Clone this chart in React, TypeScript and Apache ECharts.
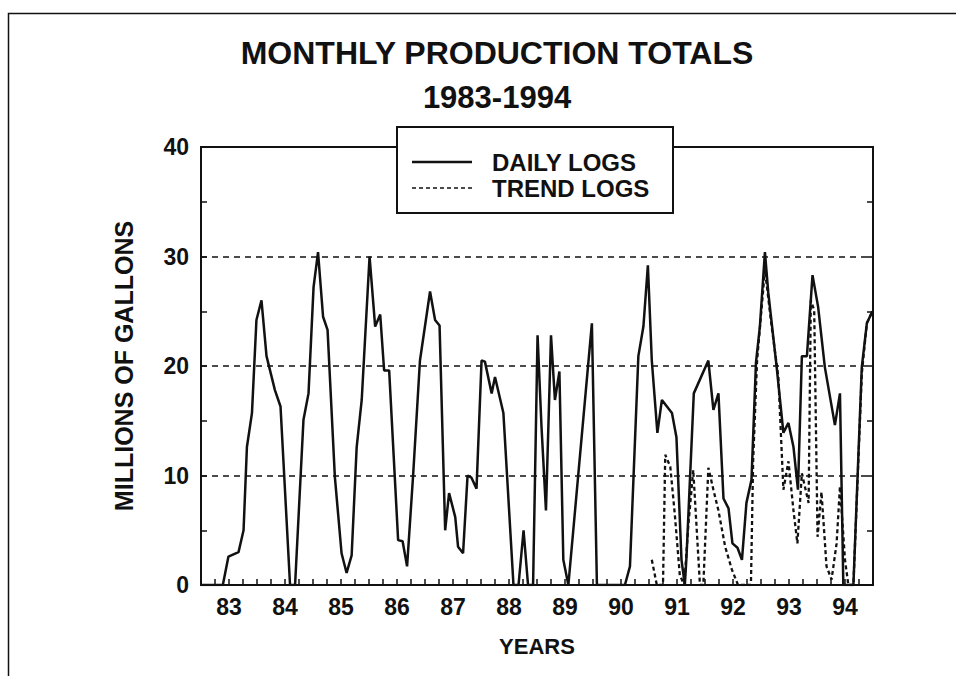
import React, { useEffect, useRef } from "react";
import * as echarts from "echarts";

const dailyX = [
  82.5, 82.89, 82.99, 83.17, 83.26, 83.32, 83.41, 83.49, 83.58, 83.67,
  83.82, 83.92, 84.09, 84.18, 84.33, 84.42, 84.51, 84.59, 84.68, 84.76,
  84.89, 85.01, 85.1, 85.19, 85.28, 85.37, 85.51, 85.61, 85.7, 85.77,
  85.86, 86.02, 86.1, 86.18, 86.29, 86.41, 86.59, 86.68, 86.76, 86.86,
  86.93, 87.04, 87.09, 87.18, 87.26, 87.33, 87.42, 87.51, 87.57, 87.69,
  87.75, 87.9, 88.08, 88.17, 88.26, 88.34, 88.43, 88.51, 88.58, 88.66,
  88.75, 88.82, 88.9, 88.97, 89.06, 89.48, 89.57, 90.07, 90.16, 90.31,
  90.4, 90.48, 90.55, 90.65, 90.73, 90.91, 90.99, 91.08, 91.14, 91.17,
  91.3, 91.56, 91.65, 91.74, 91.83, 91.92, 91.99, 92.08, 92.16, 92.24,
  92.33, 92.41, 92.48, 92.57, 92.63, 92.78, 92.9, 92.99, 93.08, 93.16,
  93.23, 93.32, 93.42, 93.52, 93.64, 93.82, 93.91, 93.97, 94.15, 94.3,
  94.39, 94.49,
];
const dailyY = [
  0, 0, 2.6, 3.0, 5.0, 12.6, 15.7, 24.2, 26.0, 20.9,
  17.8, 16.3, 0, 0, 15.1, 17.5, 27.2, 30.4, 24.5, 23.3,
  9.9, 2.9, 1.1, 2.7, 12.6, 16.9, 30.0, 23.6, 24.7, 19.6,
  19.6, 4.1, 4.0, 1.7, 10.2, 20.5, 26.8, 24.2, 23.7, 5.0,
  8.4, 6.2, 3.5, 2.9, 10.0, 9.8, 8.8, 20.5, 20.4, 17.5,
  19.0, 15.7, 0, 0, 5.0, 0, 0, 22.8, 14.5, 6.8,
  22.8, 16.9, 19.5, 2.3, 0, 23.9, 0, 0, 1.7, 20.9,
  23.6, 29.2, 20.5, 13.9, 16.9, 15.7, 13.5, 2.3, 0, 2.6,
  17.5, 20.5, 16.0, 17.5, 7.9, 7.0, 3.8, 3.4, 2.3, 7.5,
  9.6, 20.3, 23.6, 30.4, 26.7, 19.9, 13.9, 14.8, 12.6, 8.7,
  20.9, 20.9, 28.3, 25.4, 19.9, 14.6, 17.5, 0, 0, 19.9,
  23.9, 25.0,
];

const trendX = [
  90.55, 90.64, 90.75, 90.79, 90.88, 90.96, 91.05, 91.13, 91.2, 91.29,
  91.41, 91.47, 91.56, 91.65, 91.74, 91.86, 91.98, 92.09, 92.32, 92.36,
  92.43, 92.57, 92.69, 92.81, 92.9, 92.99, 93.08, 93.15, 93.23, 93.35,
  93.39, 93.45, 93.51, 93.58, 93.67, 93.76, 93.85, 93.91, 94.0, 94.06,
  94.15, 94.3, 94.39, 94.49,
];
const trendY = [
  2.3, 0, 0, 11.9, 10.8, 6.5, 0.9, 0, 5.3, 10.5,
  0, 0, 10.7, 8.7, 6.8, 3.5, 1.4, 0, 0, 11.4,
  20.5, 28.8, 23.6, 19.0, 8.7, 11.3, 6.8, 3.8, 10.2, 7.5,
  26.0, 25.1, 4.4, 8.5, 1.7, 0.5, 3.8, 9.0, 2.3, 0,
  0, 19.3, 23.9, 25.0,
];

const yTicks = [0, 10, 20, 30, 40];
const seriesNames = ["DAILY LOGS", "TREND LOGS"];
const titleLines = ["MONTHLY PRODUCTION TOTALS", "1983-1994"];

const FONT = "'Liberation Sans', Arial, Helvetica, sans-serif";
const INK = "#111";

export default function App() {
  const ref = useRef<HTMLDivElement>(null);

  useEffect(() => {
    document.body.style.margin = "0";
    const chart = echarts.init(ref.current!, undefined, { renderer: "svg" });
    const daily = dailyX.map((x, i) => [x, dailyY[i]]);
    const trend = trendX.map((x, i) => [x, trendY[i]]);

    const yAxisBase = {
      type: "value",
      min: yTicks[0],
      max: yTicks[yTicks.length - 1],
      interval: 10,
      axisLine: { show: true, lineStyle: { color: INK, width: 2 } },
      axisTick: { show: true, inside: true, length: 6, lineStyle: { color: INK, width: 1.5 } },
      minorTick: { show: true, splitNumber: 2, length: 6, lineStyle: { color: INK, width: 1.5 } },
    };

    chart.setOption({
      animation: false,
      backgroundColor: "#fff",
      grid: {
        left: 201,
        top: 147,
        width: 672,
        height: 438,
        show: true,
        borderColor: INK,
        borderWidth: 2,
        backgroundColor: "#fff",
      },
      xAxis: {
        type: "value",
        min: 82.5,
        max: 94.5,
        interval: 0.25,
        name: "YEARS",
        nameLocation: "middle",
        nameGap: 50,
        nameTextStyle: { fontFamily: FONT, fontWeight: "bold", fontSize: 22, color: INK },
        axisLine: { show: true, lineStyle: { color: INK, width: 2 } },
        axisTick: { show: true, inside: true, length: 6, lineStyle: { color: INK, width: 1.5 } },
        splitLine: { show: false },
        axisLabel: {
          margin: 10,
          fontFamily: FONT,
          fontWeight: "bold",
          fontSize: 23,
          color: INK,
          formatter: (v: number) =>
            Math.abs(v - Math.round(v)) < 1e-6 ? String(Math.round(v)) : "",
        },
      },
      yAxis: [
        {
          ...yAxisBase,
          position: "left",
          name: "MILLIONS OF GALLONS",
          nameLocation: "middle",
          nameGap: 65,
          nameRotate: 90,
          nameTextStyle: { fontFamily: FONT, fontWeight: "bold", fontSize: 25, color: INK },
          axisLabel: {
            margin: 12,
            fontFamily: FONT,
            fontWeight: "bold",
            fontSize: 23,
            color: INK,
          },
          splitLine: {
            show: true,
            lineStyle: { color: INK, width: 1.5, type: [6, 5] },
          },
        },
        {
          ...yAxisBase,
          position: "right",
          axisLabel: { show: false },
          splitLine: { show: false },
        },
      ],
      series: [
        {
          name: seriesNames[0],
          type: "line",
          data: daily,
          showSymbol: false,
          symbol: "none",
          lineStyle: { color: INK, width: 2.5 },
          z: 3,
        },
        {
          name: seriesNames[1],
          type: "line",
          data: trend,
          showSymbol: false,
          symbol: "none",
          lineStyle: { color: INK, width: 2.3, type: [4, 3] },
          z: 4,
        },
      ],
      graphic: [
        {
          type: "rect",
          shape: { x: 8.5, y: 13.5, width: 1000, height: 1000 },
          style: { fill: "none", stroke: INK, lineWidth: 1.5 },
          silent: true,
          z: 1,
        },
        {
          type: "text",
          x: 497,
          y: 53,
          style: {
            text: titleLines[0],
            fontFamily: FONT,
            fontWeight: "bold",
            fontSize: 32,
            fill: INK,
            textAlign: "center",
            textVerticalAlign: "middle",
          },
          z: 10,
        },
        {
          type: "text",
          x: 497,
          y: 97,
          style: {
            text: titleLines[1],
            fontFamily: FONT,
            fontWeight: "bold",
            fontSize: 31,
            fill: INK,
            textAlign: "center",
            textVerticalAlign: "middle",
          },
          z: 10,
        },
        {
          type: "group",
          z: 20,
          children: [
            {
              type: "rect",
              shape: { x: 397, y: 127, width: 276, height: 86 },
              style: { fill: "#fff", stroke: INK, lineWidth: 2 },
              z: 20,
            },
            {
              type: "line",
              shape: { x1: 412, y1: 162, x2: 472, y2: 162 },
              style: { stroke: INK, lineWidth: 2.5 },
              z: 21,
            },
            {
              type: "line",
              shape: { x1: 412, y1: 188, x2: 472, y2: 188 },
              style: { stroke: INK, lineWidth: 1.5, lineDash: [4, 3] },
              z: 21,
            },
            {
              type: "text",
              x: 492,
              y: 162,
              style: {
                text: seriesNames[0],
                fontFamily: FONT,
                fontWeight: "bold",
                fontSize: 24,
                fill: INK,
                textAlign: "left",
                textVerticalAlign: "middle",
              },
              z: 21,
            },
            {
              type: "text",
              x: 492,
              y: 188,
              style: {
                text: seriesNames[1],
                fontFamily: FONT,
                fontWeight: "bold",
                fontSize: 24,
                fill: INK,
                textAlign: "left",
                textVerticalAlign: "middle",
              },
              z: 21,
            },
          ],
        },
      ],
    });

    return () => chart.dispose();
  }, []);

  return <div ref={ref} style={{ width: 956, height: 676 }} />;
}
